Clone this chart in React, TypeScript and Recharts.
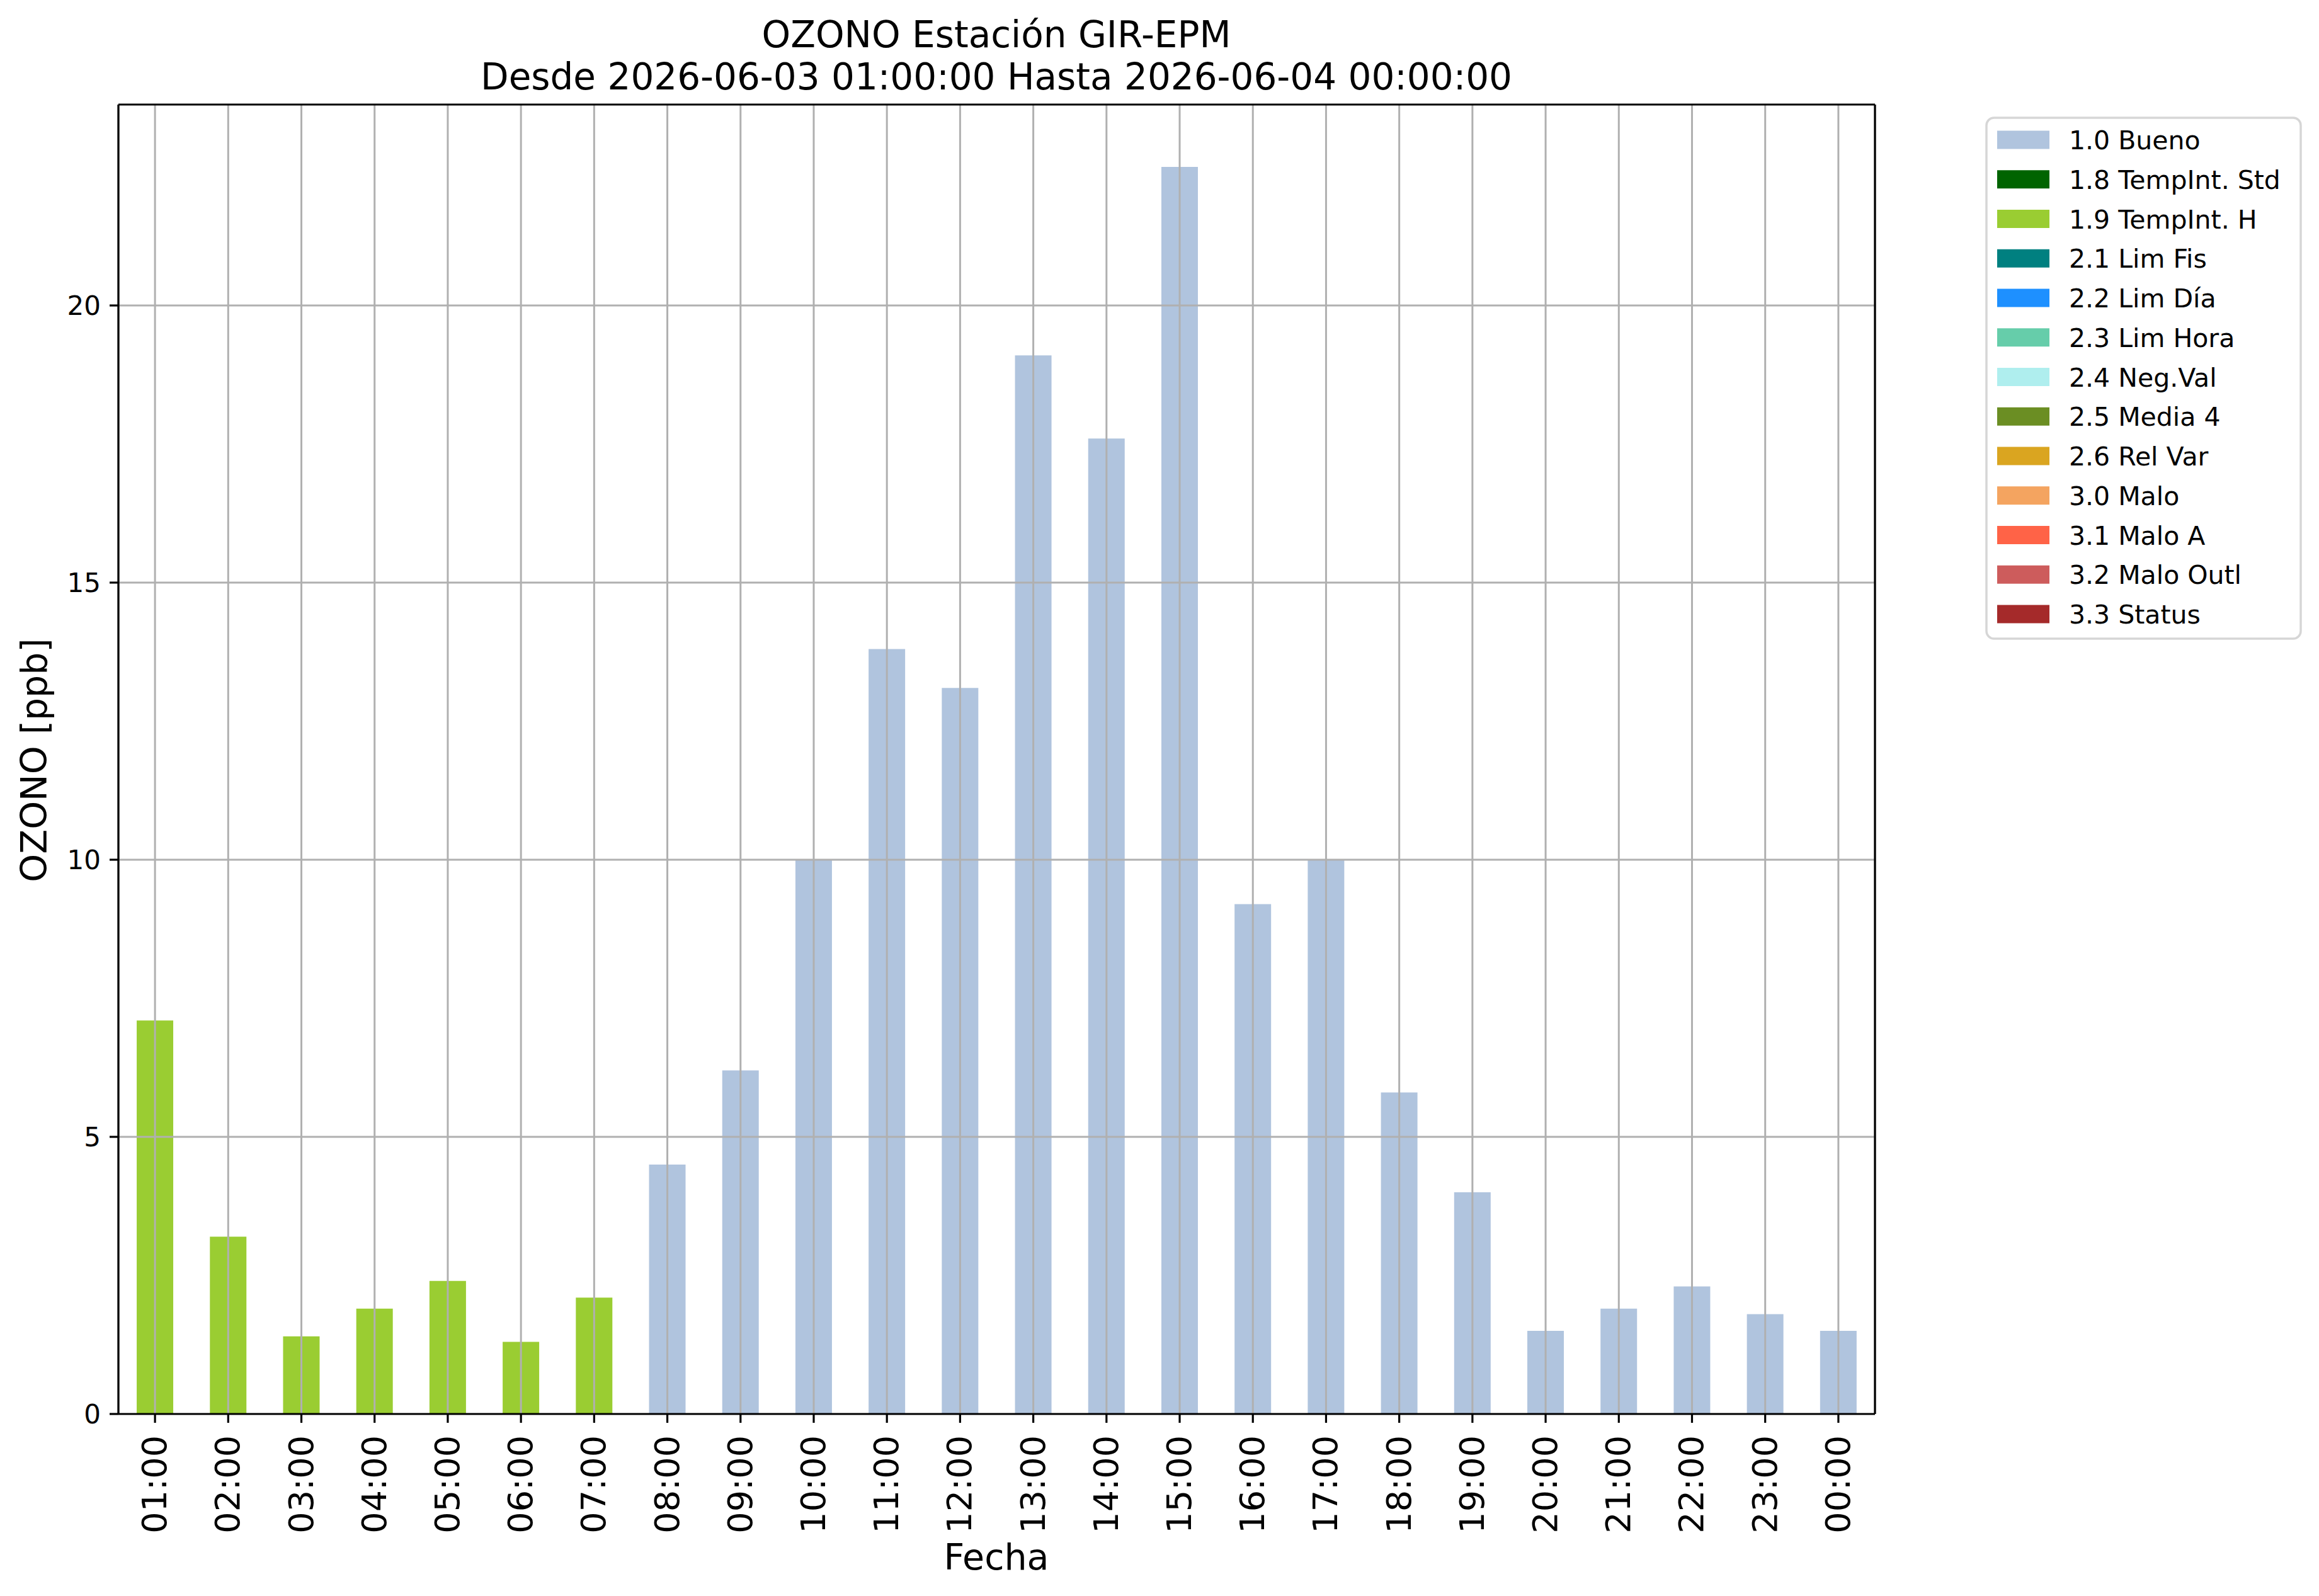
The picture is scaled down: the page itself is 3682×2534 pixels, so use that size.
import { BarChart, Bar, XAxis, YAxis, CartesianGrid } from "recharts";

const HOURS = [
  "01:00", "02:00", "03:00", "04:00", "05:00", "06:00", "07:00", "08:00",
  "09:00", "10:00", "11:00", "12:00", "13:00", "14:00", "15:00", "16:00",
  "17:00", "18:00", "19:00", "20:00", "21:00", "22:00", "23:00", "00:00",
];

// 1.0 Bueno
const BUENO = [
  null, null, null, null, null, null, null, 4.5,
  6.2, 10.0, 13.8, 13.1, 19.1, 17.6, 22.5, 9.2,
  10.0, 5.8, 4.0, 1.5, 1.9, 2.3, 1.8, 1.5,
];

// 1.9 TempInt. H
const TEMPINT_H = [
  7.1, 3.2, 1.4, 1.9, 2.4, 1.3, 2.1, null,
  null, null, null, null, null, null, null, null,
  null, null, null, null, null, null, null, null,
];

const FLAG_LABELS = [
  "1.0 Bueno",
  "1.8 TempInt. Std",
  "1.9 TempInt. H",
  "2.1 Lim Fis",
  "2.2 Lim Día",
  "2.3 Lim Hora",
  "2.4 Neg.Val",
  "2.5 Media 4",
  "2.6 Rel Var",
  "3.0 Malo",
  "3.1 Malo A",
  "3.2 Malo Outl",
  "3.3 Status",
];

const FLAG_COLORS = [
  "#b0c4de", // lightsteelblue
  "#006400", // darkgreen
  "#9acd32", // yellowgreen
  "#008080", // teal
  "#1e90ff", // dodgerblue
  "#66cdaa", // mediumaquamarine
  "#afeeee", // paleturquoise
  "#6b8e23", // olivedrab
  "#daa520", // goldenrod
  "#f4a460", // sandybrown
  "#ff6347", // tomato
  "#cd5c5c", // indianred
  "#a52a2a", // brown
];

// only two flags carry data in this window
const FLAG_VALUES: Record<number, Array<number | null>> = {
  0: BUENO,
  2: TEMPINT_H,
};

const Y_TICKS = [0, 5, 10, 15, 20];
const Y_MAX = 23.625;

const FONT = "'DejaVu Sans', sans-serif";

const data = HOURS.map((hour, i) => {
  const row: Record<string, string | number | null> = { hour };
  FLAG_LABELS.forEach((_, j) => {
    const vals = FLAG_VALUES[j];
    row[`f${j}`] = vals ? vals[i] : null;
  });
  return row;
});

const XTick = (props: any) => {
  const { x, y, payload } = props;
  const bx = x + 18;
  return (
    <text
      x={bx}
      y={y}
      transform={`rotate(-90, ${bx}, ${y})`}
      textAnchor="end"
      fontSize={54}
      fontFamily={FONT}
      fill="#000"
    >
      {payload.value}
    </text>
  );
};

const spine = { stroke: "#000", strokeWidth: 3.2 };

export default function App() {
  return (
    <div
      style={{
        position: "absolute",
        left: 0,
        top: 0,
        width: 3682,
        height: 2534,
        background: "#fff",
      }}
    >
      <BarChart
        width={3682}
        height={2534}
        data={data}
        margin={{ top: 165, right: 704, left: 0, bottom: 0 }}
        barCategoryGap="25%"
      >
        {FLAG_LABELS.map((name, j) => (
          <Bar
            key={name}
            dataKey={`f${j}`}
            name={name}
            stackId="a"
            fill={FLAG_COLORS[j]}
            isAnimationActive={false}
          />
        ))}
        {/* grid sits above the bars, like matplotlib's default */}
        <CartesianGrid
          stroke="#b0b0b0"
          strokeWidth={3}
          horizontalValues={[5, 10, 15, 20]}
          zIndex={400}
        />
        <XAxis
          dataKey="hour"
          height={289}
          interval={0}
          tickSize={14}
          tickMargin={20}
          tick={<XTick />}
          axisLine={spine}
          tickLine={spine}
        />
        <XAxis
          xAxisId="top"
          orientation="top"
          dataKey="hour"
          height={1}
          tick={false}
          tickLine={false}
          axisLine={spine}
        />
        <YAxis
          width={188}
          domain={[0, Y_MAX]}
          ticks={Y_TICKS}
          allowDataOverflow
          tickSize={14}
          tickMargin={14}
          tick={{ fontSize: 42, fontFamily: FONT, fill: "#000" }}
          axisLine={spine}
          tickLine={spine}
        />
        <YAxis
          yAxisId="right"
          orientation="right"
          width={1}
          domain={[0, Y_MAX]}
          tick={false}
          tickLine={false}
          axisLine={spine}
        />
      </BarChart>

      <svg
        width={3682}
        height={2534}
        style={{ position: "absolute", left: 0, top: 0, pointerEvents: "none" }}
        fontFamily={FONT}
      >
        <text x={1582} y={75} textAnchor="middle" fontSize={58}>
          OZONO Estación GIR-EPM
        </text>
        <text x={1582} y={142} textAnchor="middle" fontSize={58}>
          Desde 2026-06-03 01:00:00 Hasta 2026-06-04 00:00:00
        </text>
        <text x={1582} y={2492} textAnchor="middle" fontSize={57}>
          Fecha
        </text>
        <text
          x={74}
          y={1207}
          textAnchor="middle"
          fontSize={57}
          transform="rotate(-90, 74, 1207)"
        >
          OZONO [ppb]
        </text>

        <rect
          x={3154}
          y={187}
          width={499}
          height={827}
          rx={12}
          fill="#fff"
          stroke="#d6d6d6"
          strokeWidth={3.5}
        />
        {FLAG_LABELS.map((name, j) => {
          const cy = 222 + 62.75 * j;
          return (
            <g key={name}>
              <rect x={3171} y={cy - 14.5} width={83} height={29} fill={FLAG_COLORS[j]} />
              <text x={3285} y={cy + 15} fontSize={41}>
                {name}
              </text>
            </g>
          );
        })}
      </svg>
    </div>
  );
}
